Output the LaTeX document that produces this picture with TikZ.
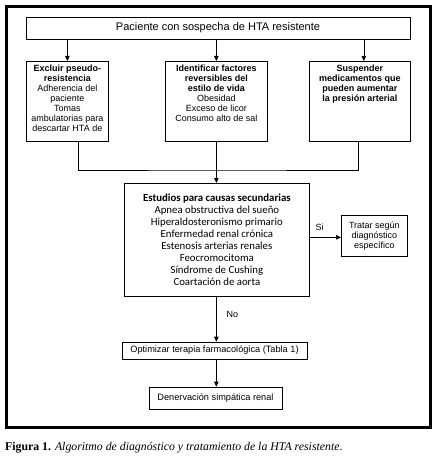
\documentclass[tikz,border=0pt]{standalone}
\usepackage{fontspec}
\setmainfont{Liberation Sans}
\newfontfamily\calibrifont{Carlito}
\newfontfamily\captionfont{Liberation Serif}
\usetikzlibrary{positioning, calc, arrows.meta}

\begin{document}
\begin{tikzpicture}[
    x=1pt, y=-1pt,
    >={Triangle[length=5pt, width=4.5pt]},
    box/.style={rectangle, draw=black, line width=0.7pt, inner sep=0pt, align=center},
    boxtext/.style={align=center, font=\fontsize{9}{10}\selectfont, inner sep=0pt},
    arr/.style={->, line width=0.7pt},
    conn/.style={line width=0.7pt},
    lbl/.style={font=\fontsize{9}{10}\selectfont, inner sep=0pt}
]
\useasboundingbox (0,0) rectangle (439,465);

% outer frame
\draw[line width=3pt] (6.5,6.5) rectangle (430,427.5);

\node[box, minimum width=384, minimum height=22, font=\fontsize{11}{12}\selectfont]
    (pac) at (218,28) {Paciente con sospecha de HTA resistente};

% three first steps
\node[box, minimum width=82, minimum height=80, anchor=north west] (excl) at (26,61) {};
\node[boxtext, anchor=north] (exclText) at ([yshift=-4pt]excl.north) {%
    \textbf{Excluir pseudo-}\\ \textbf{resistencia}\\ Adherencia del\\ paciente\\
    Tomas\\ ambulatorias para\\ descartar HTA de};

\node[box, minimum width=102, minimum height=80, anchor=north west] (estilo) at (165,61) {};
\node[boxtext, anchor=north] (estiloText) at ([yshift=-4pt]estilo.north) {%
    \textbf{Identificar factores}\\ \textbf{reversibles del}\\ \textbf{estilo de vida}\\
    Obesidad\\ Exceso de licor\\ Consumo alto de sal};

\node[box, minimum width=101, minimum height=80, anchor=north west] (susp) at (309,61) {};
\node[boxtext, anchor=north] (suspText) at ([yshift=-4pt]susp.north) {%
    \textbf{Suspender}\\ \textbf{medicamentos que}\\ \textbf{pueden aumentar}\\
    \textbf{la presión arterial}};

\draw[arr] (excl.north |- pac.south) -- (excl.north);
\draw[arr] (estilo.north |- pac.south) -- (estilo.north);
\draw[arr] ([xshift=4pt]susp.north |- pac.south) -- ([xshift=4pt]susp.north);

% secondary causes
\node[box, minimum width=185, minimum height=113, anchor=north west,
      font=\calibrifont\fontsize{10.8}{12.1}\selectfont]
    (estudios) at (124,183) {%
    \textbf{Estudios para causas secundarias}\\ Apnea obstructiva del sueño\\
    Hiperaldosteronismo primario\\ Enfermedad renal crónica\\
    Estenosis arterias renales\\ Feocromocitoma\\ Síndrome de Cushing\\
    Coartación de aorta};

\coordinate (join) at (estilo.south |- 0,170);
\draw[conn] ([xshift=11pt]excl.south) |- (join) -| ([xshift=-1.5pt]susp.south);
\draw[conn] (estilo.south) -- (join);
\draw[arr] (join) -- (join |- estudios.north);

\node[box, minimum width=66, minimum height=41, anchor=north west,
      font=\fontsize{9}{10}\selectfont]
    (trat) at (341,215) {Tratar según\\ diagnóstico\\ específico};

\draw[arr] ([yshift=-1.5pt]estudios.east |- trat.west) -- ([yshift=-1.5pt]trat.west)
    node[lbl, pos=0.32, above=6pt] {Si};

% treatment
\node[box, minimum width=185, minimum height=17, font=\fontsize{9.2}{10}\selectfont]
    (optim) at (214.5,350.5) {Optimizar terapia farmacológica (Tabla 1)};
\node[box, minimum width=133, minimum height=22, font=\fontsize{9.2}{10}\selectfont]
    (denerv) at (215.5,398) {Denervación simpática renal};

\draw[arr] (join |- estudios.south) -- (join |- optim.north)
    node[lbl, pos=0.4, right=10pt] {No};
\draw[arr] (join |- optim.south) -- (join |- denerv.north);

\node[anchor=west, inner sep=0pt, font=\captionfont\fontsize{11.8}{13}\selectfont]
    (caption) at (5,447.5) {\textbf{Figura 1.} \textit{Algoritmo de diagnóstico y tratamiento de la HTA resistente}.};
\end{tikzpicture}
\end{document}
